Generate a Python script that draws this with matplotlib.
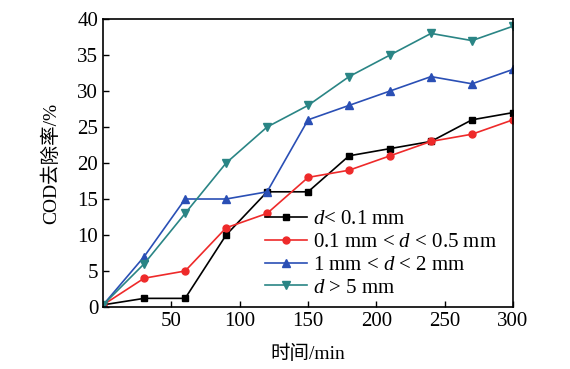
import matplotlib.pyplot as plt
import numpy as np

plt.rcParams['font.family'] = ['Liberation Serif', 'Noto Sans CJK SC']
plt.rcParams['mathtext.fontset'] = 'custom'
plt.rcParams['mathtext.it'] = 'Liberation Serif:italic'
plt.rcParams['mathtext.rm'] = 'Liberation Serif'

t = [0, 30, 60, 90, 120, 150, 180, 210, 240, 270, 300]
d_lt01 = [0.3, 1.2, 1.2, 10, 16, 16, 21, 22, 23, 26, 27]
d_01_05 = [0.3, 4, 5, 11, 13, 18, 19, 21, 23, 24, 26]
d_1_2 = [0.3, 7, 15, 15, 16, 26, 28, 30, 32, 31, 33]
d_gt5 = [0.3, 6, 13, 20, 25, 28, 32, 35, 38, 37, 39]
labels = ['$d$< 0.1 mm', '0.1 mm < $d$ < 0.5 mm', '1 mm < $d$ < 2 mm', '$d$ > 5 mm']

fig = plt.figure(figsize=(5.7, 3.69), dpi=100)
ax = fig.add_axes([0.181, 0.168, 0.719, 0.7805])

ax.plot(t, d_lt01, '-s', color='black', ms=5, lw=1.2, label=labels[0])
ax.plot(t, d_01_05, '-o', color='#ee2a2a', ms=5, lw=1.2, label=labels[1])
ax.plot(t, d_1_2, '-^', color='#2a4fb5', ms=6, lw=1.2, label=labels[2])
ax.plot(t, d_gt5, '-v', color='#2a8585', ms=6, lw=1.2, label=labels[3])

ax.set_xlim(0, 300)
ax.set_ylim(0, 40)
ax.set_xticks([50, 100, 150, 200, 250, 300])
ax.set_yticks(np.arange(0, 41, 5))
ax.tick_params(direction='in', length=4, labelsize=15, width=1)
for s in ax.spines.values():
    s.set_linewidth(1.2)
ax.set_xlabel('时间/min', fontsize=14, labelpad=10)
ax.set_ylabel('COD去除率/%', fontsize=14, labelpad=12)
ax.legend(loc='lower left', bbox_to_anchor=(0.355, -0.025), frameon=False, fontsize=15,
          handlelength=2.0, labelspacing=0.15, borderpad=0.3, handletextpad=0.3)

plt.savefig('out.png', dpi=100)
